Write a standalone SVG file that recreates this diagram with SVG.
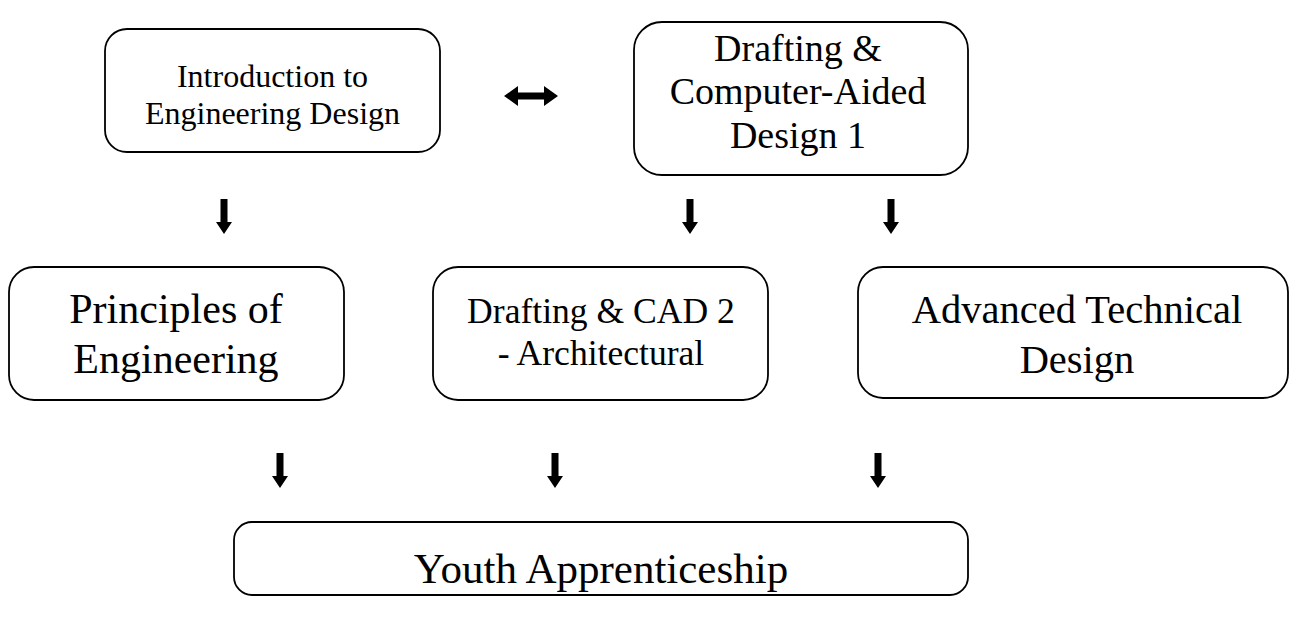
<svg xmlns="http://www.w3.org/2000/svg" width="1290" height="621" viewBox="0 0 1290 621">
<style>
.box{fill:#fff;stroke:#000;stroke-width:1.8}
.t{font-family:"Liberation Serif","Times New Roman",serif;fill:#000;text-anchor:middle}
.arr{fill:#000}
</style>
<defs>
<path id="down" d="M-3.5,0 L3.5,0 L3.5,23 L8,23 L0,35 L-8,23 L-3.5,23 Z"/>
</defs>
<rect width="1290" height="621" fill="#fff"/>
<g id="intro">
<rect class="box" x="105" y="29" width="335" height="123" rx="22"/>
<text class="t" font-size="32" x="272.5" y="87">Introduction to</text>
<text class="t" font-size="32" x="272.5" y="124">Engineering Design</text>
</g>
<g id="cad1">
<rect class="box" x="634" y="22" width="334" height="153" rx="28"/>
<text class="t" font-size="38" x="798" y="61">Drafting &amp;</text>
<text class="t" font-size="38" x="798" y="104">Computer-Aided</text>
<text class="t" font-size="38" x="798" y="148">Design 1</text>
</g>
<g id="principles">
<rect class="box" x="9" y="267" width="335" height="133" rx="25"/>
<text class="t" font-size="42" x="176" y="323">Principles of</text>
<text class="t" font-size="42" x="176" y="373">Engineering</text>
</g>
<g id="cad2">
<rect class="box" x="433" y="267" width="335" height="133" rx="25"/>
<text class="t" font-size="35.6" x="601" y="323">Drafting &amp; CAD 2</text>
<text class="t" font-size="35.6" x="601" y="365">- Architectural</text>
</g>
<g id="advanced">
<rect class="box" x="858" y="267" width="430" height="131" rx="25"/>
<text class="t" font-size="40.5" x="1077" y="323">Advanced Technical</text>
<text class="t" font-size="40.5" x="1077" y="373">Design</text>
</g>
<g id="youth">
<rect class="box" x="234" y="522" width="734" height="73" rx="18"/>
<text class="t" font-size="43" x="601" y="583">Youth Apprenticeship</text>
</g>
<g id="connectors" class="arr">
<path d="M504,96 L518,86 L518,92.5 L544,92.5 L544,86 L558,96 L544,106 L544,99.5 L518,99.5 L518,106 Z"/>
<use href="#down" x="224" y="199"/>
<use href="#down" x="690" y="199"/>
<use href="#down" x="891" y="199"/>
<use href="#down" x="280" y="453"/>
<use href="#down" x="555" y="453"/>
<use href="#down" x="878" y="453"/>
</g>
</svg>
